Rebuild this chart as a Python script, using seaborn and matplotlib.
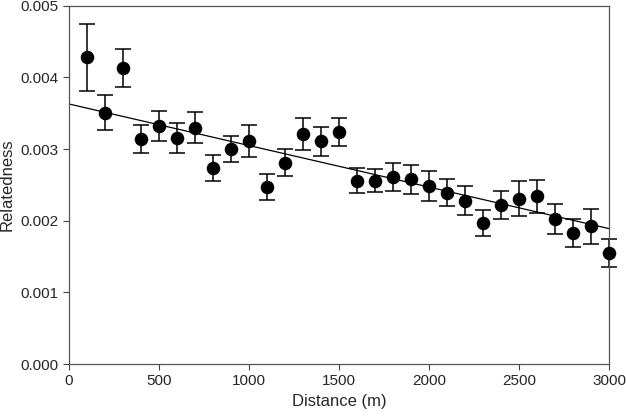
import numpy as np
import pandas as pd
import matplotlib
matplotlib.use("Agg")
import matplotlib.pyplot as plt
import seaborn as sns

# distance classes (m) and mean relatedness with standard errors
distance = [100, 200, 300, 400, 500, 600, 700, 800, 900, 1000,
            1100, 1200, 1300, 1400, 1500, 1600, 1700, 1800, 1900, 2000,
            2100, 2200, 2300, 2400, 2500, 2600, 2700, 2800, 2900, 3000]
relatedness = [0.00428, 0.00351, 0.00413, 0.00314, 0.00332, 0.00316, 0.00330, 0.00274, 0.00300, 0.00311,
               0.00247, 0.00281, 0.00321, 0.00311, 0.00324, 0.00256, 0.00256, 0.00261, 0.00258, 0.00249,
               0.00239, 0.00228, 0.00197, 0.00222, 0.00231, 0.00234, 0.00203, 0.00183, 0.00192, 0.00155]
stderr = [0.00047, 0.00025, 0.00027, 0.00020, 0.00021, 0.00021, 0.00022, 0.00018, 0.00018, 0.00022,
          0.00018, 0.00019, 0.00022, 0.00020, 0.00020, 0.00017, 0.00016, 0.00019, 0.00020, 0.00021,
          0.00019, 0.00020, 0.00018, 0.00020, 0.00025, 0.00023, 0.00021, 0.00020, 0.00024, 0.00020]

# fitted line (intercept, slope per m)
fit_intercept = 0.00363
fit_slope = -5.8e-7
fit_x = [0, 3000]

sns.set_style("ticks")
plt.rcParams['font.family'] = ['Liberation Sans', 'DejaVu Sans']

df = pd.DataFrame({'distance': distance, 'relatedness': relatedness, 'se': stderr})
line_df = pd.DataFrame({'distance': fit_x})
line_df['relatedness'] = fit_intercept + fit_slope * line_df['distance']

fig = plt.figure(figsize=(6.26, 4.16), dpi=100)
ax = fig.add_axes([0.110, 0.125, 0.863, 0.861])

sns.lineplot(data=line_df, x='distance', y='relatedness', color='black', linewidth=0.9, ax=ax)
eb = ax.errorbar(df['distance'], df['relatedness'], yerr=df['se'], fmt='none',
                 ecolor='black', elinewidth=1.1, capsize=6, capthick=1.1)
for art in eb.lines[1] + eb.lines[2]:
    art.set_clip_on(False)
sns.scatterplot(data=df, x='distance', y='relatedness', color='black', s=95,
                edgecolor='black', linewidth=0, ax=ax, zorder=3, clip_on=False)

ax.set_xlim(0, 3000)
ax.set_ylim(0, 0.005)
ax.set_xticks(np.arange(0, 3001, 500))
ax.set_yticks(np.arange(0, 0.0051, 0.001))
ax.set_yticklabels([f"{v:.3f}" for v in np.arange(0, 0.0051, 0.001)])
ax.tick_params(axis='both', labelsize=11, length=4, width=0.8, color='#444444')
ax.set_xlabel('Distance (m)', fontsize=12)
ax.set_ylabel('Relatedness', fontsize=12)
for sp in ax.spines.values():
    sp.set_color('#555555')
    sp.set_linewidth(0.9)

fig.savefig('out.png', dpi=100)
